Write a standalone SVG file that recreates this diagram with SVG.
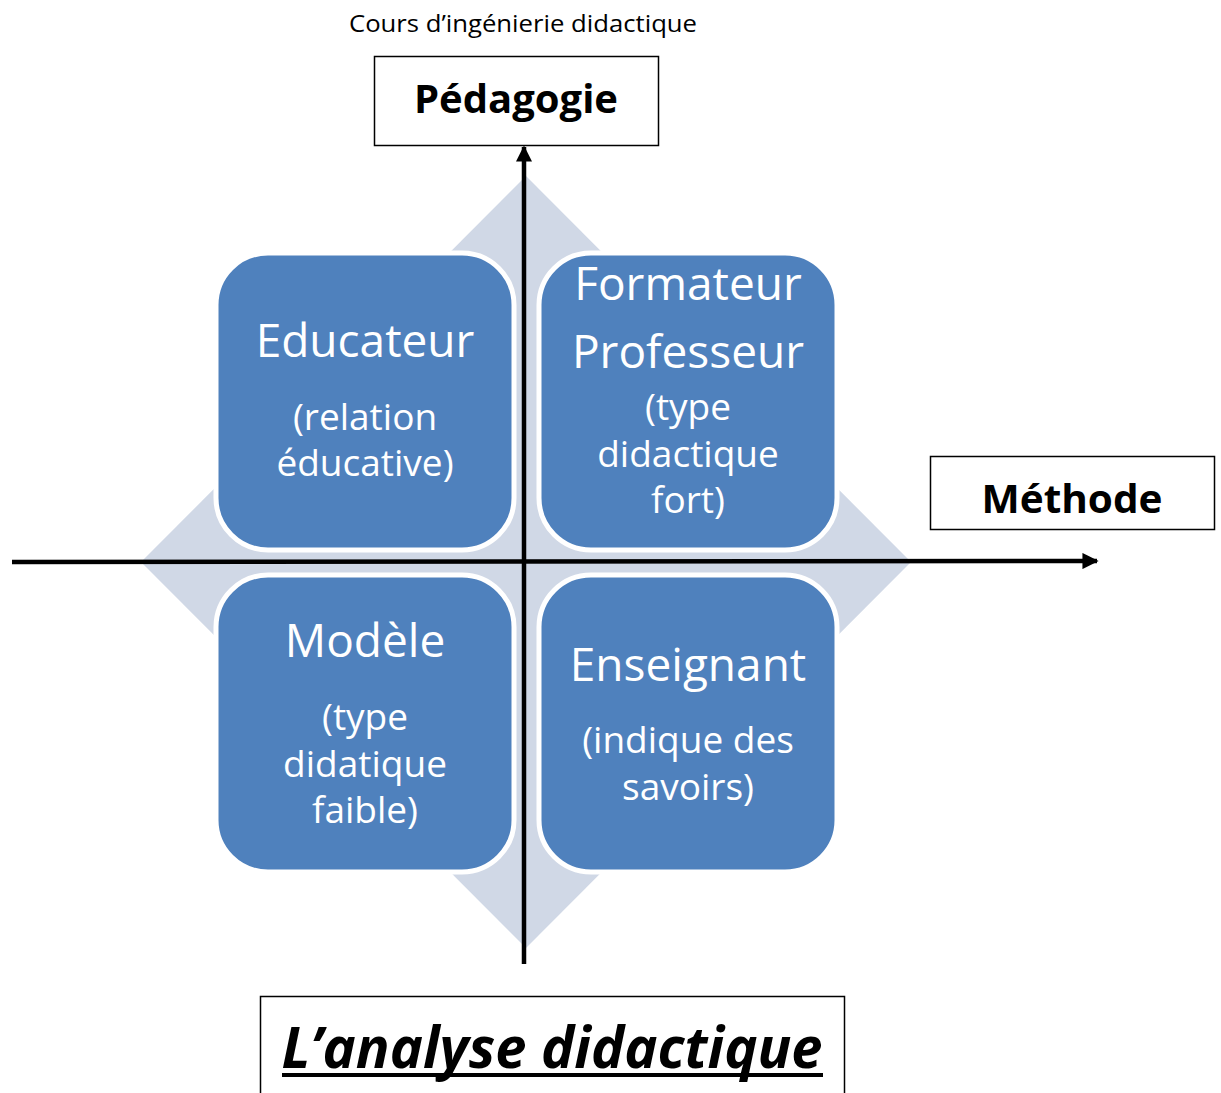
<svg xmlns="http://www.w3.org/2000/svg" width="1221" height="1093" viewBox="0 0 1221 1093">
<style>
.bg{fill:#ffffff}
.diamond{fill:#D0D8E6}
.tile{fill:#4F81BD;stroke:#ffffff;stroke-width:5}
.lbl{fill:#ffffff;font-family:"Open Sans","Noto Sans",sans-serif;text-anchor:middle}
.big{font-size:46px}
.small{font-size:37px}
.axis{stroke:#000;stroke-width:4.5;fill:none}
.box{fill:#fff;stroke:#000;stroke-width:1.5}
.head{font-family:"Open Sans","Noto Sans",sans-serif;font-weight:bold;text-anchor:middle;fill:#000}
</style>
<defs>
<marker id="arr" viewBox="0 0 10 10" refX="9" refY="5" markerWidth="3.6" markerHeight="3.6" orient="auto" markerUnits="strokeWidth">
<path d="M0,0 L10,5 L0,10 z" fill="#000"/>
</marker>
</defs>
<rect class="bg" x="0" y="0" width="1221" height="1093"/>
<text x="523" y="32" font-family="Open Sans, Noto Sans, sans-serif" font-size="23" text-anchor="middle" fill="#000" textLength="348" lengthAdjust="spacingAndGlyphs">Cours d’ingénierie didactique</text>
<polygon class="diamond" points="526,176 911,562 526,948 141,562"/>
<g id="educateur">
<rect class="tile" x="216" y="253" width="298" height="297" rx="52"/>
<text class="lbl big" x="365" y="357">Educateur</text>
<text class="lbl small" x="365" y="430">(relation</text>
<text class="lbl small" x="365" y="476">éducative)</text>
</g>
<g id="formateur">
<rect class="tile" x="539" y="253" width="298" height="297" rx="52"/>
<text class="lbl big" x="688" y="300">Formateur</text>
<text class="lbl big" x="688" y="368">Professeur</text>
<text class="lbl small" x="688" y="420">(type</text>
<text class="lbl small" x="688" y="467">didactique</text>
<text class="lbl small" x="688" y="513">fort)</text>
</g>
<g id="modele">
<rect class="tile" x="216" y="575" width="298" height="297" rx="52"/>
<text class="lbl big" x="365" y="657">Modèle</text>
<text class="lbl small" x="365" y="730">(type</text>
<text class="lbl small" x="365" y="777">didatique</text>
<text class="lbl small" x="365" y="823">faible)</text>
</g>
<g id="enseignant">
<rect class="tile" x="539" y="575" width="298" height="297" rx="52"/>
<text class="lbl big" x="688" y="681">Enseignant</text>
<text class="lbl small" x="688" y="753">(indique des</text>
<text class="lbl small" x="688" y="800">savoirs)</text>
</g>
<g id="connectors">
<line class="axis" x1="12" y1="562" x2="1097" y2="561" marker-end="url(#arr)"/>
<line class="axis" x1="524" y1="964" x2="524" y2="147" marker-end="url(#arr)"/>
</g>
<g id="pedagogie">
<rect class="box" x="374.5" y="56.5" width="284" height="89"/>
<text class="head" x="516" y="113" font-size="40" textLength="204" lengthAdjust="spacingAndGlyphs">Pédagogie</text>
</g>
<g id="methode">
<rect class="box" x="930.5" y="456.5" width="284" height="73"/>
<text class="head" x="1072" y="513" font-size="39" textLength="181" lengthAdjust="spacingAndGlyphs">Méthode</text>
</g>
<g id="titre">
<rect class="box" x="260.5" y="996.5" width="584" height="110"/>
<text class="head" x="552" y="1068" font-size="58" font-style="italic" textLength="541" lengthAdjust="spacingAndGlyphs">L’analyse didactique</text>
<line x1="282" y1="1075" x2="823" y2="1075" stroke="#000" stroke-width="4"/>
</g>
</svg>
